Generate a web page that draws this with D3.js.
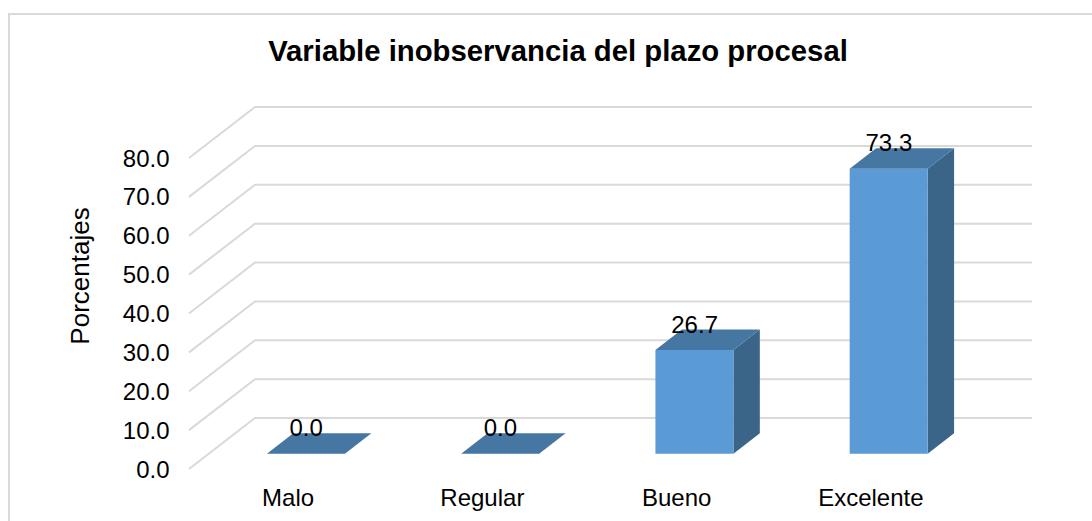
<!DOCTYPE html>
<html>
<head>
<meta charset="utf-8">
<script src="https://cdn.jsdelivr.net/npm/d3@7"></script>
<style>
  html, body { margin: 0; padding: 0; background: #fff; overflow: hidden; }
  text { font-family: "Liberation Sans", Arial, sans-serif; fill: #000; }
</style>
</head>
<body>
<div id="container"></div>
<script>
const categories = ["Malo", "Regular", "Bueno", "Excelente"];
const values = [0.0, 0.0, 26.7, 73.3];
const ticks = [0, 10, 20, 30, 40, 50, 60, 70, 80];

const DEPTH_X = 66;
const DEPTH_Y = 51;
const BAR_FRONT = 0.3;
const BAR_BACK = 0.7;
const LABEL_SIZE = 24;

let svg = d3.select("#container").append("svg").attr("width", 1092).attr("height", 521);

// chart frame, its right and bottom edges fall outside the picture
svg.append("rect")
  .attr("x", 9).attr("y", 14).attr("width", 1100).attr("height", 520)
  .attr("fill", "#fff").attr("stroke", "#d9d9d9").attr("stroke-width", 2);

let xScale = d3.scaleBand().domain(categories).range([189, 966]);
let yScale = d3.scaleLinear().domain([0, 80]).range([469, 158]);

// maps a chart position to the page, z = 0 is the front of the floor, z = 1 the back wall
function px(x, z) { return x + z * DEPTH_X; }
function py(v, z) { return yScale(v) - z * DEPTH_Y; }

let grid = d3.line().x((d) => d[0]).y((d) => d[1]);
svg.selectAll("path.grid").data(ticks).enter().append("path")
  .attr("class", "grid")
  .attr("fill", "none")
  .attr("stroke", "#d9d9d9")
  .attr("stroke-width", 2)
  .attr("d", (t) => grid([
    [px(189, 0), py(t, 0)],
    [px(189, 1), py(t, 1)],
    [px(966, 1), py(t, 1)],
  ]));

svg.selectAll("text.tick").data(ticks).enter().append("text")
  .attr("class", "tick")
  .attr("x", 169.5)
  .attr("y", (t) => yScale(t) + 8.5)
  .attr("text-anchor", "end")
  .attr("font-size", LABEL_SIZE)
  .text((t) => t.toFixed(1));

let bars = svg.selectAll("g.bar").data(categories).enter().append("g").attr("class", "bar");
let barWidth = 78;
let left = (c) => xScale(c) + xScale.bandwidth() / 2 - barWidth / 2;
let val = (i) => values[i];
let poly = (pts) => pts.map((p) => p.join(",")).join(" ");

// side
bars.append("polygon")
  .attr("fill", "#3a6588")
  .attr("points", (c, i) => {
    let x = left(c) + barWidth;
    return poly([
      [px(x, BAR_FRONT), py(0, BAR_FRONT)],
      [px(x, BAR_BACK), py(0, BAR_BACK)],
      [px(x, BAR_BACK), py(val(i), BAR_BACK)],
      [px(x, BAR_FRONT), py(val(i), BAR_FRONT)],
    ]);
  });
// front
bars.append("polygon")
  .attr("fill", "#5b9bd5")
  .attr("points", (c, i) => {
    let x = left(c);
    return poly([
      [px(x, BAR_FRONT), py(0, BAR_FRONT)],
      [px(x + barWidth, BAR_FRONT), py(0, BAR_FRONT)],
      [px(x + barWidth, BAR_FRONT), py(val(i), BAR_FRONT)],
      [px(x, BAR_FRONT), py(val(i), BAR_FRONT)],
    ]);
  });
// top
bars.append("polygon")
  .attr("fill", "#4676a2")
  .attr("points", (c, i) => {
    let x = left(c);
    return poly([
      [px(x, BAR_FRONT), py(val(i), BAR_FRONT)],
      [px(x + barWidth, BAR_FRONT), py(val(i), BAR_FRONT)],
      [px(x + barWidth, BAR_BACK), py(val(i), BAR_BACK)],
      [px(x, BAR_BACK), py(val(i), BAR_BACK)],
    ]);
  });

bars.append("text")
  .attr("x", (c) => xScale(c) + xScale.bandwidth() / 2 + 20)
  .attr("y", (c, i) => py(val(i), BAR_BACK) + 3)
  .attr("text-anchor", "middle")
  .attr("font-size", LABEL_SIZE)
  .text((c, i) => val(i).toFixed(1));

svg.selectAll("text.cat").data(categories).enter().append("text")
  .attr("class", "cat")
  .attr("x", (c) => xScale(c) + xScale.bandwidth() / 2 + 2)
  .attr("y", 506)
  .attr("text-anchor", "middle")
  .attr("font-size", LABEL_SIZE)
  .text((c) => c);

svg.append("text")
  .attr("x", 558).attr("y", 61)
  .attr("text-anchor", "middle")
  .attr("font-size", 29.3)
  .attr("font-weight", "bold")
  .text("Variable inobservancia del plazo procesal");

svg.append("text")
  .attr("transform", "translate(89,276) rotate(-90)")
  .attr("text-anchor", "middle")
  .attr("font-size", 26)
  .text("Porcentajes");
</script>
</body>
</html>
